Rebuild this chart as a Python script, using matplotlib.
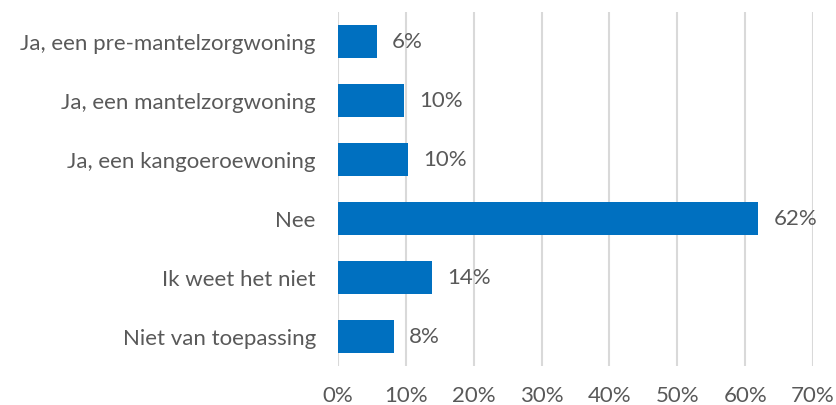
import matplotlib
matplotlib.use('Agg')
import matplotlib.pyplot as plt
from matplotlib.ticker import FuncFormatter

# survey answers, top to bottom as in the chart
categories = ['Ja, een pre-mantelzorgwoning', 'Ja, een mantelzorgwoning',
              'Ja, een kangoeroewoning', 'Nee', 'Ik weet het niet',
              'Niet van toepassing']
values = [5.7, 9.7, 10.3, 61.9, 13.9, 8.2]
labels = ['6%', '10%', '10%', '62%', '14%', '8%']
xticks = [0, 10, 20, 30, 40, 50, 60, 70]

plt.rcParams['font.family'] = ['Lato', 'DejaVu Sans']
text_color = '#595959'

fig = plt.figure(figsize=(8.37, 4.06), dpi=100)
ax = fig.add_axes([338 / 837, 1 - 367 / 406, 475 / 837, 354 / 406])

ypos = list(range(len(categories)))[::-1]
bars = ax.barh(ypos, values, height=0.56, color='#0070C0', zorder=3)

for bar, lab in zip(bars, labels):
    ax.annotate(lab, (bar.get_width(), bar.get_y() + bar.get_height() / 2),
                xytext=(11, 0), textcoords='offset points', va='center',
                ha='left', fontsize=16, color=text_color)

ax.set_xlim(0, 70)
ax.set_ylim(-0.5, len(categories) - 0.5)
ax.set_xticks(xticks)
ax.xaxis.set_major_formatter(FuncFormatter(lambda v, p: '%d%%' % v))
ax.set_yticks(ypos)
ax.set_yticklabels(categories)
ax.grid(axis='x', color='#D9D9D9', linewidth=1.5, zorder=0)
for s in ax.spines.values():
    s.set_visible(False)
ax.tick_params(axis='both', length=0, labelsize=16, colors=text_color)
ax.tick_params(axis='y', pad=16)
ax.tick_params(axis='x', pad=14)

fig.savefig('out.png', dpi=100)
